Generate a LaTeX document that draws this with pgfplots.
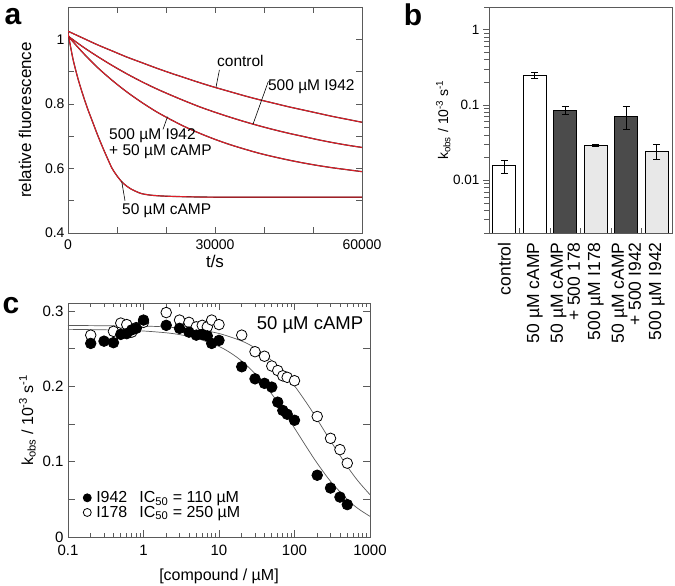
\documentclass[border=0pt]{standalone}
\usepackage{fontspec}
\setmainfont{Liberation Sans}
\usepackage{pgfplots}
\usepackage{pgfplotstable}
\pgfplotsset{compat=1.18}
\newcommand\fs[2]{\fontsize{#1bp}{#2bp}\selectfont}
\definecolor{fitred}{RGB}{225,30,40}
\definecolor{darkbar}{RGB}{75,75,75}
\definecolor{lightbar}{RGB}{232,232,232}
\definecolor{axgray}{RGB}{90,90,90}

\pgfplotstableread{
t y
0 1.025
3000 1.004
6000 0.983
9000 0.964
12000 0.945
15000 0.928
18000 0.911
21000 0.895
24000 0.880
27000 0.865
30000 0.851
33000 0.838
36000 0.825
39000 0.813
42000 0.802
45000 0.791
48000 0.781
51000 0.771
54000 0.761
57000 0.752
60000 0.743
}\ctrl
\pgfplotstableread{
t y
0 1.010
3000 0.977
6000 0.947
9000 0.919
12000 0.893
15000 0.869
18000 0.847
21000 0.827
24000 0.808
27000 0.790
30000 0.774
33000 0.759
36000 0.745
39000 0.732
42000 0.720
45000 0.709
48000 0.699
51000 0.689
54000 0.680
57000 0.672
60000 0.665
}\inhib
\pgfplotstableread{
t y
0 1.010
3000 0.959
6000 0.913
9000 0.873
12000 0.837
15000 0.805
18000 0.776
21000 0.751
24000 0.728
27000 0.708
30000 0.690
33000 0.674
36000 0.660
39000 0.647
42000 0.636
45000 0.626
48000 0.617
51000 0.609
54000 0.602
57000 0.596
60000 0.590
}\mix
\pgfplotstableread{
t y
0 1.020
1000 0.940
2000 0.880
3000 0.830
4000 0.785
5000 0.745
6000 0.705
7000 0.668
8000 0.633
9000 0.600
10000 0.577
11000 0.558
12000 0.545
13000 0.535
14000 0.528
15000 0.522
17000 0.517
20000 0.514
25000 0.512
30000 0.511
40000 0.511
50000 0.511
60000 0.511
}\camp
\pgfplotstableread{
x y
0.2 0.257
0.3 0.260
0.4 0.258
0.5 0.269
0.6 0.270
0.7 0.275
0.8 0.277
1 0.288
2 0.281
3 0.277
4 0.272
5 0.268
6 0.269
7 0.267
8 0.257
10 0.261
20 0.226
30 0.210
40 0.204
50 0.199
60 0.179
70 0.168
80 0.163
100 0.155
200 0.082
300 0.065
400 0.053
500 0.043
}\filled
\pgfplotstableread{
x y
0.2 0.268
0.4 0.273
0.5 0.284
0.6 0.282
0.7 0.272
0.8 0.278
1 0.285
2 0.298
3 0.288
4 0.285
5 0.279
6 0.281
7 0.279
8 0.288
10 0.282
20 0.268
30 0.246
40 0.240
50 0.227
60 0.221
70 0.214
80 0.212
100 0.2075
200 0.160
300 0.131
400 0.116
500 0.098
}\open
\pgfplotstableread{
x y
0.1 0.2757
0.5 0.2747
1 0.2735
2 0.2711
3 0.2687
5 0.2640
10 0.2530
15 0.2429
20 0.2335
30 0.2169
50 0.1898
70 0.1687
100 0.1446
150 0.1168
200 0.0979
300 0.0740
500 0.0498
700 0.0375
1000 0.0274
}\fitA
\pgfplotstableread{
x y
0.1 0.2809
1 0.2799
2 0.2788
5 0.2755
10 0.2702
20 0.2602
30 0.2509
50 0.2342
70 0.2195
100 0.2007
150 0.1756
200 0.1561
300 0.1277
500 0.0937
700 0.0739
1000 0.0562
}\fitB

\begin{document}
\begin{tikzpicture}
\path[use as bounding box] (0,0) rectangle (675bp,586bp);
\pgfplotsset{common/.style={scale only axis,
  axis line style={axgray, line width=0.8bp},
  every tick/.style={axgray, line width=0.7bp},
  /pgf/number format/assume math mode=true}}

% ---------- panel a ----------
\begin{axis}[common, at={(68bp,353bp)}, anchor=south west,
  width=294bp, height=226bp,
  xmin=0, xmax=60000, ymin=0.4, ymax=1.1,
  xtick={0,10000,20000,30000,40000,50000,60000},
  xticklabels={0,,,30000,,,60000},
  ytick={0.4,0.5,0.6,0.7,0.8,0.9,1.0},
  yticklabels={0.4,,0.6,,0.8,,1},
  tick align=inside, major tick length=6bp,
  scaled ticks=false,
  tick label style={font=\fs{14}{16}},
  x tick label style={yshift=-3bp},
  label style={font=\fs{17}{19}},
  xlabel={t/s}, ylabel={relative fluorescence},
  xlabel style={yshift=1bp},
  ylabel style={yshift=7bp}]
\addplot[black!85, line width=1.2bp, smooth] table {\ctrl};
\addplot[fitred, line width=1.0bp, smooth] table {\ctrl};
\addplot[black!85, line width=1.2bp, smooth] table {\inhib};
\addplot[fitred, line width=1.0bp, smooth] table {\inhib};
\addplot[black!85, line width=1.2bp, smooth] table {\mix};
\addplot[fitred, line width=1.0bp, smooth] table {\mix};
\addplot[black!85, line width=1.2bp, smooth] table {\camp};
\addplot[fitred, line width=1.0bp, smooth] table {\camp};
\node[anchor=west, font=\fs{15.5}{17}, inner sep=0] at (axis cs:30400,0.932) {control};
\draw[black, line width=0.6bp] (axis cs:30200,0.851) -- (axis cs:30900,0.905);
\node[anchor=west, font=\fs{15.5}{17}, inner sep=0] at (axis cs:40800,0.854) {500 µM I942};
\draw[black, line width=0.6bp] (axis cs:40900,0.870) -- (axis cs:37760,0.737);
\node[anchor=north west, align=left, font=\fs{15.5}{16.5}, inner sep=0] at (axis cs:8370,0.725) {500 µM I942\\+ 50 µM cAMP};
\draw[black, line width=0.6bp] (axis cs:19390,0.721) -- (axis cs:20300,0.760);
\node[anchor=west, font=\fs{15.5}{17}, inner sep=0] at (axis cs:11020,0.470) {50 µM cAMP};
\draw[black, line width=0.6bp] (axis cs:11630,0.500) -- (axis cs:10960,0.560);
\end{axis}

% ---------- panel b ----------
\begin{axis}[common, at={(489bp,353bp)}, anchor=south west,
  width=183bp, height=226bp,
  ymode=log, ymin=0.002, ymax=2, log origin=infty,
  xmin=-0.5, xmax=5.5,
  xtick={0,1,2,3,4,5},
  xticklabels={control, 50 µM cAMP, {50 µM cAMP\\+ 500 178}, 500 µM I178, {50 µM cAMP\\+ 500 I942}, 500 µM I942},
  x tick label style={rotate=90, anchor=east, align=right, font=\fs{17.5}{17}},
  minor xtick={0.5,1.5,2.5,3.5,4.5},
  major x tick style={draw=none},
  minor x tick style={yshift=5bp},
  ytick={0.01,0.1,1}, yticklabels={0.01,0.1,1},
  minor ytick={0.002,0.003,0.004,0.005,0.006,0.007,0.008,0.009,0.02,0.03,0.04,0.05,0.06,0.07,0.08,0.09,0.2,0.3,0.4,0.5,0.6,0.7,0.8,0.9,2},
  y tick label style={font=\fs{13.5}{15}},
  tick align=outside, major tick length=6bp, minor tick length=5bp,
  xtick pos=bottom, ytick pos=left,
  ylabel={k\textsubscript{obs} / 10\textsuperscript{-3} s\textsuperscript{-1}},
  ylabel style={font=\fs{14}{16}, yshift=-4bp}]
\addplot[ybar, bar width=23bp, bar shift=0pt, fill=white, draw=black, line width=0.8bp,
  error bars/.cd, y dir=both, y explicit,
  error bar style={black, line width=0.8bp},
  error mark options={rotate=90, mark size=3.5bp, black, line width=0.8bp}]
  coordinates {(0,0.0156) += (0,0.0029) -= (0,0.0032) (1,0.248) += (0,0.026) -= (0,0.022)};
\addplot[ybar, bar width=23bp, bar shift=0pt, fill=darkbar, draw=black, line width=0.8bp,
  error bars/.cd, y dir=both, y explicit,
  error bar style={black, line width=0.8bp},
  error mark options={rotate=90, mark size=3.5bp, black, line width=0.8bp}]
  coordinates {(2,0.084) += (0,0.011) -= (0,0.008) (4,0.071) += (0,0.025) -= (0,0.023)};
\addplot[ybar, bar width=23bp, bar shift=0pt, fill=lightbar, draw=black, line width=0.8bp,
  error bars/.cd, y dir=both, y explicit,
  error bar style={black, line width=0.8bp},
  error mark options={rotate=90, mark size=3.5bp, black, line width=0.8bp}]
  coordinates {(3,0.0291) += (0,0.0007) -= (0,0.0008) (5,0.0239) += (0,0.0059) -= (0,0.0050)};
\end{axis}

% ---------- panel c ----------
\begin{axis}[common, at={(68bp,49bp)}, anchor=south west,
  width=302bp, height=233.5bp,
  xmode=log, xmin=0.1, xmax=1000, ymin=0, ymax=0.31,
  xtick={0.1,1,10,100,1000}, xticklabels={0.1,1,10,100,1000},
  minor xtick={0.2,0.3,0.4,0.5,0.6,0.7,0.8,0.9,2,3,4,5,6,7,8,9,20,30,40,50,60,70,80,90,200,300,400,500,600,700,800,900},
  ytick={0,0.05,0.1,0.15,0.2,0.25,0.3},
  yticklabels={0,,0.1,,0.2,,0.3},
  tick align=inside, major tick length=7bp, minor tick length=4bp,
  tick label style={font=\fs{15}{17}},
  x tick label style={yshift=-5bp},
  y tick label style={xshift=-1bp},
  label style={font=\fs{16}{18}},
  xlabel={[compound / µM]},
  ylabel={k\textsubscript{obs} / 10\textsuperscript{-3} s\textsuperscript{-1}},
  xlabel style={yshift=-6bp},
  reverse legend,
  legend image post style={mark size=4bp},
  legend style={draw=none, fill=none, at={(0.04,0.06)}, anchor=south west,
    font=\fs{16}{18}, legend cell align=left, row sep=-2bp}]
\addplot[axgray, line width=0.7bp, smooth, forget plot] table {\fitA};
\addplot[axgray, line width=0.7bp, smooth, forget plot] table {\fitB};
\addplot[only marks, mark=*, mark size=5.3bp, mark options={fill=white, draw=black, line width=0.8bp}] table {\open};
\addlegendentry{\hspace{3bp}I178\hspace{12bp}IC\textsubscript{50} = 250 µM}
\addplot[only marks, mark=*, mark size=5.3bp, mark options={fill=black, draw=black, line width=0.8bp}] table {\filled};
\addlegendentry{\hspace{3bp}I942\hspace{12bp}IC\textsubscript{50} = 110 µM}
\node[anchor=east, font=\fs{18.5}{20}, inner sep=0] at (rel axis cs:0.978,0.908) {50 µM cAMP};
\end{axis}

\node[font=\bfseries\fs{30}{30}, inner sep=0] at (13bp,569bp) {a};
\node[font=\bfseries\fs{30}{30}, inner sep=0] at (413bp,571bp) {b};
\node[font=\bfseries\fs{30}{30}, inner sep=0] at (11bp,280bp) {c};
\end{tikzpicture}
\end{document}
